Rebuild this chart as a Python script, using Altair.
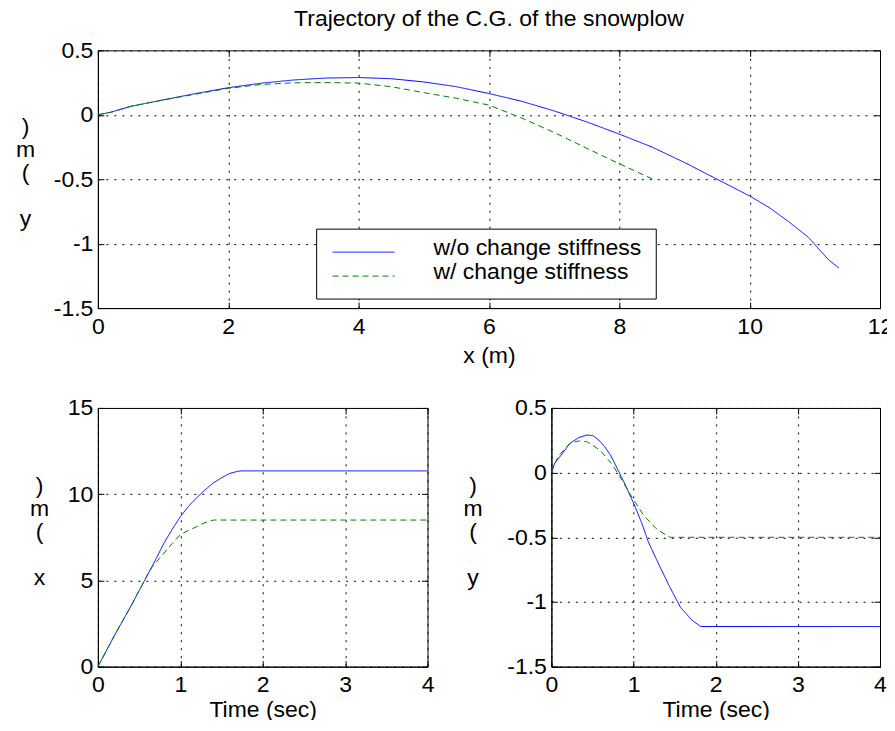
import altair as alt
import pandas as pd

series = ["w/o change stiffness", "w/ change stiffness"]
line_colors = ["#0000FF", "#008000"]
line_dashes = [[1, 0], [6, 4]]

title_text = "Trajectory of the C.G. of the snowplow"

# Top panel: trajectory of C.G., y (m) against x (m)
traj_x_wo = [0, 0.2, 0.5, 1.0, 1.5, 2.0, 2.5, 3.0, 3.5, 4.0, 4.5, 5.0, 5.5, 6.0, 6.5,
             7.0, 7.5, 8.0, 8.5, 9.0, 9.5, 10.0, 10.3, 10.6, 10.9, 11.2, 11.37]
traj_y_wo = [0, 0.02, 0.065, 0.115, 0.165, 0.21, 0.245, 0.27, 0.285, 0.289, 0.28, 0.255,
             0.218, 0.165, 0.105, 0.03, -0.055, -0.15, -0.25, -0.37, -0.50, -0.63, -0.72,
             -0.83, -0.95, -1.12, -1.19]
traj_x_w = [0, 0.2, 0.5, 1.0, 1.5, 2.0, 2.5, 3.0, 3.5, 4.0, 4.5, 5.0, 5.5, 6.0, 6.5,
            7.0, 7.5, 8.0, 8.3, 8.52]
traj_y_w = [0, 0.02, 0.065, 0.115, 0.16, 0.205, 0.235, 0.248, 0.25, 0.246, 0.218, 0.172,
            0.128, 0.075, -0.025, -0.137, -0.26, -0.38, -0.45, -0.5]

# Bottom-left: x (m) against time (sec)
xt_t_wo = [0, 0.1, 0.2, 0.3, 0.4, 0.5, 0.6, 0.7, 0.8, 0.9, 1.0, 1.1, 1.2, 1.3, 1.4, 1.5,
           1.6, 1.7, 1.75, 4.0]
xt_x_wo = [0, 0.9, 1.8, 2.65, 3.5, 4.4, 5.3, 6.2, 7.15, 7.95, 8.69, 9.3, 9.8, 10.25, 10.65,
           10.95, 11.2, 11.33, 11.35, 11.35]
xt_t_w = [0, 0.1, 0.2, 0.3, 0.4, 0.5, 0.6, 0.66, 0.76, 0.9, 1.0, 1.1, 1.2, 1.3, 1.4, 4.0]
xt_x_w = [0, 0.9, 1.8, 2.65, 3.5, 4.4, 5.3, 5.8, 6.35, 7.13, 7.65, 7.9, 8.12, 8.35, 8.5, 8.5]

# Bottom-right: y (m) against time (sec)
yt_t_wo = [0, 0.04, 0.1, 0.225, 0.33, 0.43, 0.51, 0.58, 0.65, 0.72, 0.78, 0.9, 1.01, 1.1,
           1.18, 1.31, 1.43, 1.57, 1.71, 1.82, 4.0]
yt_y_wo = [0, 0.072, 0.12, 0.226, 0.27, 0.291, 0.285, 0.25, 0.2, 0.135, 0.06, -0.095, -0.25,
           -0.39, -0.535, -0.713, -0.87, -1.04, -1.14, -1.19, -1.19]
yt_t_w = [0, 0.08, 0.225, 0.33, 0.43, 0.59, 0.73, 0.81, 0.94, 1.01, 1.12, 1.27, 1.41, 1.45, 4.0]
yt_y_w = [0, 0.124, 0.226, 0.245, 0.24, 0.175, 0.072, -0.005, -0.147, -0.219, -0.327, -0.43,
          -0.49, -0.5, -0.5]

top_x_ticks = [0, 2, 4, 6, 8, 10, 12]
top_y_ticks = [-1.5, -1, -0.5, 0, 0.5]
time_ticks = [0, 1, 2, 3, 4]
bl_y_ticks = [0, 5, 10, 15]
br_y_ticks = [-1.5, -1, -0.5, 0, 0.5]

top_xlabel = "x (m)"
top_ylabel = [")", "m", "(", "\u200b", "y"]
time_label = "Time (sec)"
bl_ylabel = [")", "m", "(", "\u200b", "x"]
br_ylabel = [")", "m", "(", "\u200b", "y"]

FONT = "Liberation Sans"
FS = 23
TICK = {"expr": "-6"}


def make_df(xs_pair, ys_pair, xname, yname):
    rows = []
    for s, xs, ys in zip(series, xs_pair, ys_pair):
        for i, (a, b) in enumerate(zip(xs, ys)):
            rows.append({"series": s, xname: a, yname: b, "idx": i})
    return pd.DataFrame(rows)


def axis_main(values, title, orient, **kw):
    return alt.Axis(
        values=values, title=title, orient=orient, format="~g",
        labelExpr="replace(datum.label, '\u2212', '-')",
        grid=True, gridColor="black", gridDash=[2, 6], gridOpacity=1, gridWidth=1,
        ticks=True, tickSize=TICK, tickColor="black", tickWidth=1,
        domain=True, domainColor="black", domainWidth=1,
        labelFont=FONT, labelFontSize=FS, labelColor="black",
        labelFlush=False, labelOverlap=False,
        titleFont=FONT, titleFontSize=FS, titleFontWeight="normal", titleColor="black",
        **kw)


def axis_extra(values, orient):
    return alt.Axis(values=values, orient=orient, title=None, labels=False, grid=False,
                    domain=False, ticks=True, tickSize=TICK, tickColor="black", tickWidth=1)


def panel(df, xname, yname, xdom, ydom, xticks, yticks, xtitle, ytitle, ytx, yty, w, h,
          xty=54, extra=()):
    xs = alt.Scale(domain=xdom, nice=False, zero=False)
    ys = alt.Scale(domain=ydom, nice=False, zero=False)
    color = alt.Color("series:N", scale=alt.Scale(domain=series, range=line_colors), legend=None)
    dash = alt.StrokeDash("series:N", scale=alt.Scale(domain=series, range=line_dashes),
                          legend=None)
    lines = alt.Chart(df).mark_line(strokeWidth=1).encode(
        x=alt.X(f"{xname}:Q", scale=xs,
                axis=axis_main(xticks, xtitle, "bottom", titleY=xty, titleBaseline="alphabetic",
                               labelPadding=13)),
        y=alt.Y(f"{yname}:Q", scale=ys,
                axis=axis_main(yticks, ytitle, "left", titleAngle=0, titleX=ytx, titleY=yty,
                               titleAlign="center", titleBaseline="alphabetic",
                               titleLineHeight=23, labelPadding=11)),
        color=color, strokeDash=dash, order="idx:Q")
    frame = alt.Chart(df).mark_line(opacity=0).encode(
        x=alt.X(f"{xname}:Q", scale=xs, axis=axis_extra(xticks, "top")),
        y=alt.Y(f"{yname}:Q", scale=ys, axis=axis_extra(yticks, "right")),
        detail="series:N")
    return alt.layer(lines, frame, *extra).resolve_axis(
        x="independent", y="independent").properties(width=w, height=h)


TOP_W, TOP_H = 783, 258

# chart title drawn as a text mark above the top panel
title_layer = alt.Chart(alt.InlineData(values=[{"t": title_text}])).mark_text(
    align="center", baseline="alphabetic", font=FONT, fontSize=FS, color="black").encode(
    x=alt.value(TOP_W / 2), y=alt.value(-24), text="t:N")

# legend drawn inside top panel (MATLAB style box)
legend_layers = [
    title_layer,
    alt.Chart(alt.InlineData(values=[{"k": 0}])).mark_rect(
        fill="white", stroke="black", strokeWidth=1).encode(
        x=alt.value(219), x2=alt.value(559), y=alt.value(179), y2=alt.value(249)),
]
for i, s in enumerate(series):
    src = alt.InlineData(values=[{"series": s}])
    legend_layers.append(
        alt.Chart(src).mark_rule(color=line_colors[i], strokeDash=line_dashes[i],
                                 strokeWidth=1).encode(
            x=alt.value(235), x2=alt.value(297), y=alt.value(202 + 24 * i)))
    legend_layers.append(
        alt.Chart(src).mark_text(align="left", baseline="alphabetic", font=FONT, fontSize=FS,
                                 color="black").encode(
            x=alt.value(336), y=alt.value(205 + 24 * i), text="series:N"))

top_df = make_df([traj_x_wo, traj_x_w], [traj_y_wo, traj_y_w], "xpos", "ypos")
bl_df = make_df([xt_t_wo, xt_t_w], [xt_x_wo, xt_x_w], "t", "xpos")
br_df = make_df([yt_t_wo, yt_t_w], [yt_y_wo, yt_y_w], "t", "ypos")

top = panel(top_df, "xpos", "ypos", [0, 12], [-1.5, 0.5], top_x_ticks, top_y_ticks,
            top_xlabel, top_ylabel, -73, 83, TOP_W, TOP_H, extra=legend_layers)
bl = panel(bl_df, "t", "xpos", [0, 4], [0, 15], time_ticks, bl_y_ticks,
           time_label, bl_ylabel, -59, 85, 330, 259, xty=50)
br = panel(br_df, "t", "ypos", [0, 4], [-1.5, 0.5], time_ticks, br_y_ticks,
           time_label, br_ylabel, -79, 85, 329, 259, xty=50)

bottom = alt.hconcat(bl, br, spacing=124, bounds="flush")
chart = alt.vconcat(top, bottom, spacing=100, bounds="flush").properties(
    padding={"left": 6, "top": -1, "right": -7, "bottom": -3}, background="white"
).configure(font=FONT).configure_view(stroke="black", strokeWidth=1)

chart.save("out.html", embed_options={"renderer": "svg", "actions": False})
